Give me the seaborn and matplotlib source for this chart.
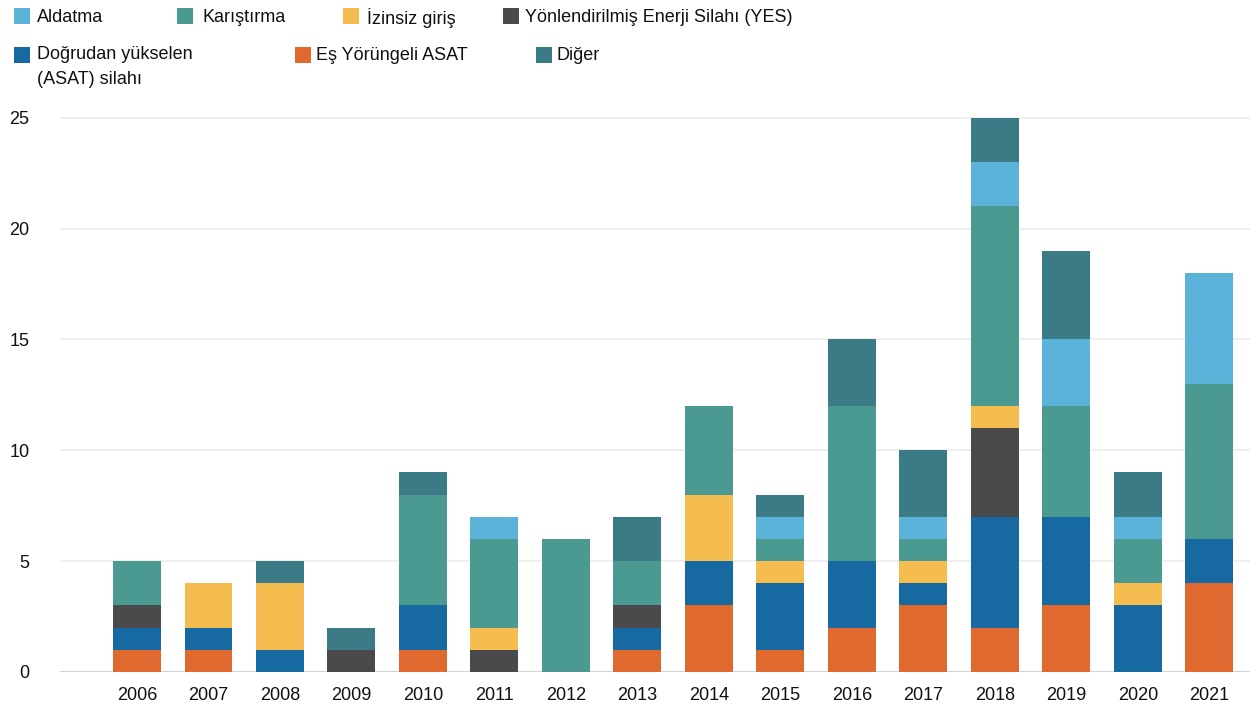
import numpy as np
import pandas as pd
import matplotlib
matplotlib.use("Agg")
import matplotlib.pyplot as plt
import seaborn as sns
from matplotlib.patches import Rectangle

# yearly counts per threat type
years = [str(y) for y in range(2006, 2022)]
es_yorungeli = [1, 1, 0, 0, 1, 0, 0, 1, 3, 1, 2, 3, 2, 3, 0, 4]
dogrudan = [1, 1, 1, 0, 2, 0, 0, 1, 2, 3, 3, 1, 5, 4, 3, 2]
yes = [1, 0, 0, 1, 0, 1, 0, 1, 0, 0, 0, 0, 4, 0, 0, 0]
izinsiz = [0, 2, 3, 0, 0, 1, 0, 0, 3, 1, 0, 1, 1, 0, 1, 0]
karistirma = [2, 0, 0, 0, 5, 4, 6, 2, 4, 1, 7, 1, 9, 5, 2, 7]
aldatma = [0, 0, 0, 0, 0, 1, 0, 0, 0, 1, 0, 1, 2, 3, 1, 5]
diger = [0, 0, 1, 1, 1, 0, 0, 2, 0, 1, 3, 3, 2, 4, 2, 0]

# bottom -> top stacking order
series = [
    ("Eş Yörüngeli ASAT", es_yorungeli, "#e0692f"),
    ("Doğrudan yükselen\n(ASAT) silahı", dogrudan, "#176aa1"),
    ("Yönlendirilmiş Enerji Silahı (YES)", yes, "#4a4a4d"),
    ("İzinsiz giriş", izinsiz, "#f5bd4f"),
    ("Karıştırma", karistirma, "#4a9a91"),
    ("Aldatma", aldatma, "#5bb3da"),
    ("Diğer", diger, "#3b7b86"),
]

df = pd.DataFrame({"year": years})
running = np.zeros(len(years))
for name, vals, col in series:
    running = running + np.array(vals)
    df[name] = running.copy()

sns.set_theme(style="white")
plt.rcParams["font.family"] = ["Liberation Sans", "DejaVu Sans"]

W, H = 1257, 709
fig = plt.figure(figsize=(W / 100, H / 100), dpi=100)
ax = fig.add_axes([60 / W, 37 / H, 1190 / W, (672 - 111) / H])

# draw cumulative totals from the top layer down so each layer shows its share
for name, vals, col in reversed(series):
    sns.barplot(data=df, x="year", y=name, color=col, width=0.67,
                saturation=1, linewidth=0, edgecolor="none", ax=ax, zorder=3)

ax.set_xlim(-1.077, 15.57)
ax.set_ylim(0, 25.3)
ax.set_yticks([0, 5, 10, 15, 20, 25])
ax.set_xlabel("")
ax.set_ylabel("")
for s in ax.spines.values():
    s.set_visible(False)
ax.grid(axis="y", color="#ececec", linewidth=1.2, zorder=0)
ax.axhline(0, color="#d4d4d4", linewidth=1.5, zorder=2)
ax.tick_params(axis="y", length=0, pad=22, labelsize=13, labelcolor="#111111")
ax.tick_params(axis="x", length=0, pad=11, labelsize=13, labelcolor="#111111")

# legend laid out like the original (irregular positions)
def px(x, y):
    return x / W, 1 - y / H

legend_items = [
    ("Aldatma", "#5bb3da", 14, 37, 16, 18),
    ("Karıştırma", "#4a9a91", 177, 202, 16, 18),
    ("İzinsiz giriş", "#f5bd4f", 343, 367, 16, 18),
    ("Yönlendirilmiş Enerji Silahı (YES)", "#4a4a4d", 503, 525, 16, 18),
    ("Doğrudan yükselen\n(ASAT) silahı", "#176aa1", 14, 37, 55, 67),
    ("Eş Yörüngeli ASAT", "#e0692f", 295, 316, 55, 56),
    ("Diğer", "#3b7b86", 536, 557, 55, 56),
]
sq = 16
for label, col, sx, tx, sy, ty in legend_items:
    x0, y0 = px(sx, sy + sq / 2)
    fig.add_artist(Rectangle((x0, y0), sq / W, sq / H, transform=fig.transFigure,
                             facecolor=col, edgecolor="none"))
    fig.text(*px(tx, ty), label, fontsize=13, va="center", ha="left",
             color="#111111", linespacing=1.55)

fig.savefig("out.png", dpi=100)
